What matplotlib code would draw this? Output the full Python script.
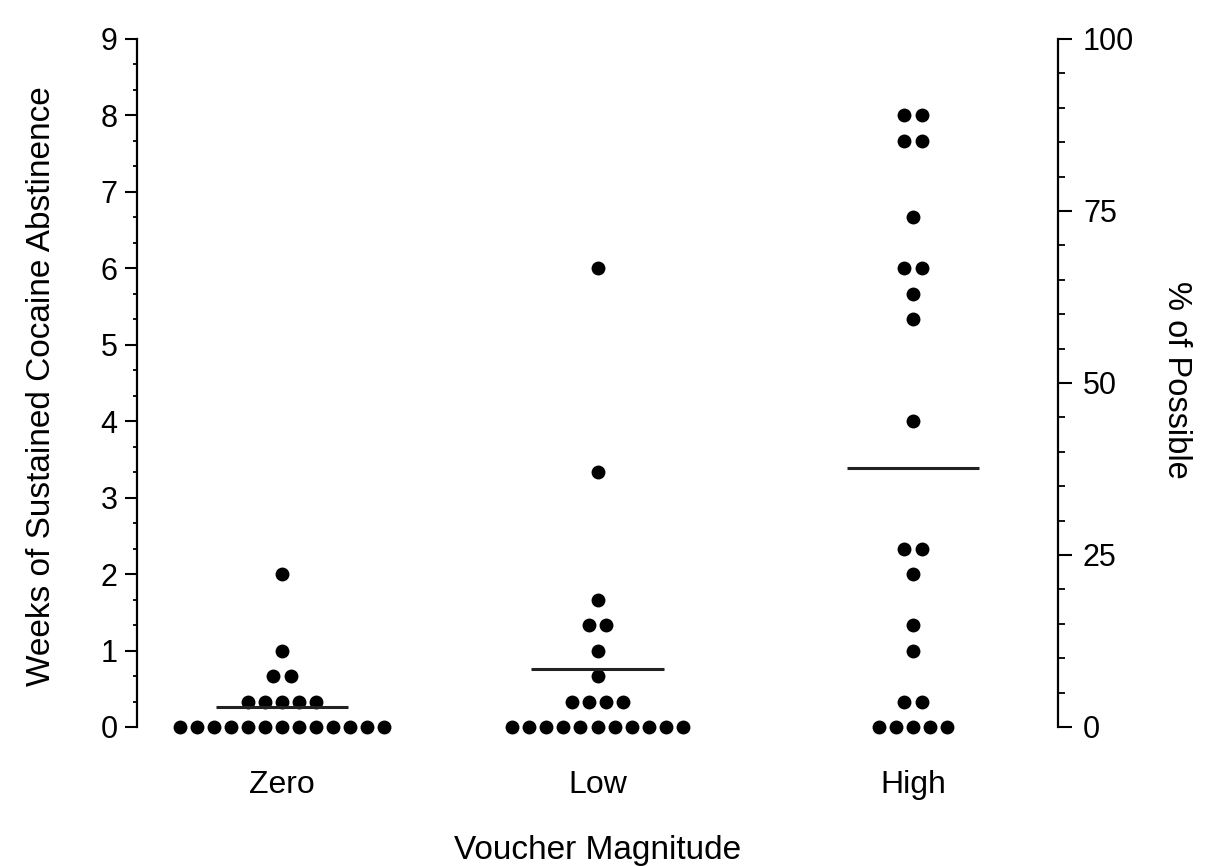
import numpy as np
import matplotlib
matplotlib.use('Agg')
import matplotlib.pyplot as plt
from matplotlib.ticker import MultipleLocator

plt.rcParams['font.family'] = ['Liberation Sans', 'DejaVu Sans']

groups = ['Zero', 'Low', 'High']

# weeks of sustained abstinence, one entry per subject
zero_weeks = [0]*13 + [1/3]*5 + [2/3]*2 + [1, 2]
low_weeks = [0]*11 + [1/3]*4 + [2/3, 1] + [4/3]*2 + [5/3, 10/3, 6]
high_weeks = ([0]*5 + [1/3]*2 + [1, 4/3, 2] + [7/3]*2 + [4, 16/3, 17/3]
              + [6]*2 + [20/3] + [23/3]*2 + [8]*2)
group_means = [0.26, 0.76, 3.39]

all_weeks = [zero_weeks, low_weeks, high_weeks]

fig = plt.figure(figsize=(12.07, 8.66), dpi=100)
ax = fig.add_axes([137/1207, 139/866, 921/1207, 688/866])

pitch = 0.0539   # horizontal spacing of stacked dots
for i, w in enumerate(all_weeks):
    vals, counts = np.unique(np.round(w, 3), return_counts=True)
    for v, n in zip(vals, counts):
        xs = i + (np.arange(n) - (n - 1) / 2) * pitch
        ax.plot(xs, [v]*n, 'o', color='black', ms=10, mew=0, clip_on=False)
    ax.plot([i - 0.21, i + 0.21], [group_means[i]]*2, color='#222222', lw=2.2,
            solid_capstyle='butt')

ax.set_xlim(-0.4596, 2.4596)
ax.set_ylim(0, 9)
ax.set_yticks(range(10))
ax.yaxis.set_minor_locator(MultipleLocator(1/3))
ax.set_xticks(range(3))
ax.set_xticklabels(groups)
for s in ['top', 'right', 'bottom']:
    ax.spines[s].set_visible(False)
ax.spines['left'].set_linewidth(1.6)
ax.tick_params(axis='x', length=0, pad=31, labelsize=23)
ax.tick_params(axis='y', which='major', length=9, width=1.5, pad=5, labelsize=22)
ax.tick_params(axis='y', which='minor', length=3, width=1.3)
ax.set_xlabel('Voucher Magnitude', fontsize=24, labelpad=25)
ax.set_ylabel('Weeks of Sustained Cocaine Abstinence', fontsize=24)
ax.yaxis.set_label_coords(-0.087, 0.496)

ax2 = ax.twinx()
ax2.set_ylim(0, 100)
ax2.set_yticks([0, 25, 50, 75, 100])
ax2.yaxis.set_minor_locator(MultipleLocator(5))
for s in ['top', 'left', 'bottom']:
    ax2.spines[s].set_visible(False)
ax2.spines['right'].set_linewidth(1.6)
ax2.tick_params(axis='y', which='major', length=10, width=1.5, pad=8, labelsize=22)
ax2.tick_params(axis='y', which='minor', length=5, width=1.3)
ax2.set_ylabel('% of Possible', fontsize=23.5, rotation=270)
ax2.yaxis.set_label_coords(1.145, 0.504)

fig.savefig('out.png', dpi=100)
